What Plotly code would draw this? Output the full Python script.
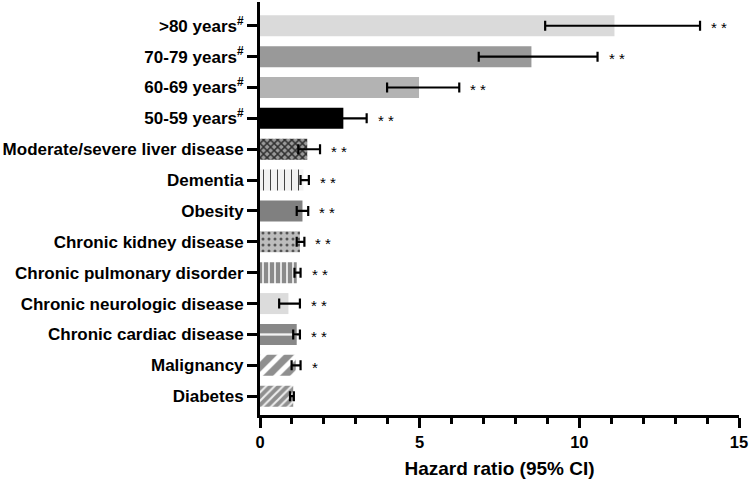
import plotly.graph_objects as go

categories = [">80 years<sup>#</sup>", "70-79 years<sup>#</sup>", "60-69 years<sup>#</sup>",
              "50-59 years<sup>#</sup>", "Moderate/severe liver disease", "Dementia", "Obesity",
              "Chronic kidney disease", "Chronic pulmonary disorder", "Chronic neurologic disease",
              "Chronic cardiac disease", "Malignancy", "Diabetes"]
hazard_ratio = [11.1, 8.5, 4.98, 2.61, 1.48, 1.36, 1.33, 1.25, 1.15, 0.89, 1.15, 1.12, 1.04]
ci_low = [8.93, 6.85, 3.98, 2.1, 1.2, 1.27, 1.15, 1.15, 1.08, 0.6, 1.04, 0.99, 0.94]
ci_high = [13.78, 10.57, 6.24, 3.34, 1.88, 1.53, 1.51, 1.39, 1.27, 1.25, 1.25, 1.27, 1.06]
significance = ["**", "**", "**", "**", "**", "**", "**", "**", "**", "**", "**", "*", ""]

base_colors = ["#dadada", "#999999", "#b3b3b3", "#000000", "#9a9a9a", "#f2f2f2", "#808080",
               "#bdbdbd", "#8a8a8a", "#dcdcdc", "#888888", "#8f8f8f", "#8f8f8f"]
pattern_colors = ["#dadada", "#999999", "#b3b3b3", "#000000", "#303030", "#444444", "#808080",
                  "#555555", "#eeeeee", "#dcdcdc", "#f4f4f4", "#ffffff", "#eeeeee"]
shapes = ["", "", "", "", "x", "|", "", ".", "|", "", "-", "/", "/"]
sizes = [8, 8, 8, 8, 5, 7, 8, 6, 6, 8, 22.93, 12, 6]
solid = [0.3, 0.3, 0.3, 0.3, 0.5, 0.15, 0.3, 0.2, 0.3, 0.3, 0.1, 0.4, 0.35]

fig = go.Figure()
for i, cat in enumerate(categories):
    fig.add_trace(go.Bar(
        y=[cat], x=[hazard_ratio[i]], orientation="h", width=0.68,
        marker=dict(color=base_colors[i], line=dict(width=0),
                    pattern=dict(shape=shapes[i], fgcolor=pattern_colors[i], fgopacity=1,
                                 size=sizes[i], solidity=solid[i], fillmode="overlay")),
        error_x=dict(type="data", symmetric=False,
                     array=[ci_high[i] - hazard_ratio[i]],
                     arrayminus=[hazard_ratio[i] - ci_low[i]],
                     color="black", thickness=2.2, width=5),
        showlegend=False, hoverinfo="skip",
    ))

for cat, hi, s in zip(categories, ci_high, significance):
    if s:
        fig.add_annotation(x=hi, y=cat, text=" ".join(s), showarrow=False,
                           xanchor="left", xshift=9, yshift=-2,
                           font=dict(family="Liberation Sans", size=15, color="black"))

fig.update_layout(
    width=750, height=479, paper_bgcolor="white", plot_bgcolor="white",
    margin=dict(l=260, r=11, t=2, b=64),
    font=dict(family="Liberation Sans", color="black"),
    barmode="overlay",
)
fig.update_yaxes(
    categoryorder="array", categoryarray=categories[::-1], range=[-0.61, 12.77],
    showline=True, linecolor="black", linewidth=3, ticks="outside", ticklen=10,
    tickwidth=3, tickcolor="black", showgrid=False, zeroline=False,
    tickfont=dict(family="Liberation Sans", size=17, color="black", weight="bold"),
)
fig.update_xaxes(
    range=[0, 15], tickvals=[0, 5, 10, 15], showline=True, linecolor="black", linewidth=3,
    ticks="outside", ticklen=10, tickwidth=3, tickcolor="black", showgrid=False,
    zeroline=False,
    minor=dict(dtick=1, ticks="outside", ticklen=6, tickwidth=3, tickcolor="black", showgrid=False),
    tickfont=dict(family="Liberation Sans", size=16.5, color="black", weight="bold"),
    title=dict(text="<b>Hazard ratio (95% CI)</b>", standoff=12,
               font=dict(family="Liberation Sans", size=19, color="black")),
)
fig.write_html("out.html", config={"displayModeBar": False},
               post_script="document.body.style.margin='0';")
